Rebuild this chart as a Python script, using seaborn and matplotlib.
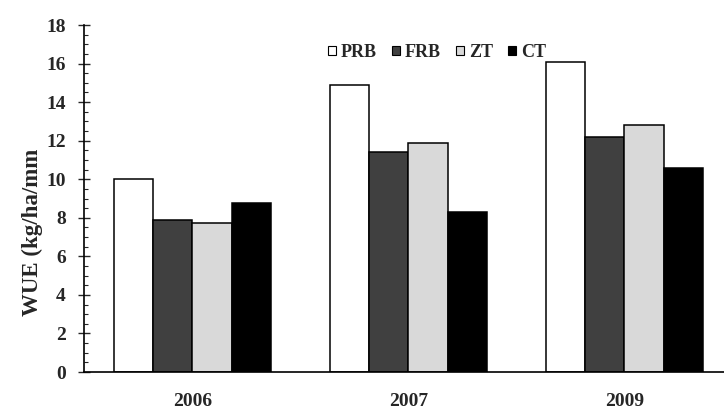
import matplotlib
matplotlib.use("Agg")
import matplotlib.pyplot as plt
import seaborn as sns
import pandas as pd
from matplotlib.patches import Patch
from matplotlib.ticker import MultipleLocator

years = ["2006", "2007", "2009"]
treatments = ["PRB", "FRB", "ZT", "CT"]
prb = [10.0, 14.9, 16.1]
frb = [7.9, 11.4, 12.2]
zt = [7.75, 11.9, 12.8]
ct = [8.75, 8.3, 10.6]
colors = ["#ffffff", "#404040", "#d9d9d9", "#000000"]

rows = []
for t, vals in zip(treatments, [prb, frb, zt, ct]):
    for y, v in zip(years, vals):
        rows.append({"year": y, "treatment": t, "wue": v})
df = pd.DataFrame(rows)

sns.set_style("white")
plt.rcParams["font.family"] = ["Liberation Serif", "DejaVu Serif"]
plt.rcParams["font.weight"] = "bold"

fig = plt.figure(figsize=(7.24, 4.11), dpi=100)
ax = fig.add_axes([84 / 724, 39 / 411, 640 / 724, 347 / 411])

sns.barplot(data=df, x="year", y="wue", hue="treatment", order=years,
            hue_order=treatments, palette=colors, width=0.73,
            edgecolor="black", linewidth=1.1, saturation=1, ax=ax,
            legend=False)

ax.set_xlim(-0.502, 2.461)
ax.set_ylim(0, 18)
ax.yaxis.set_major_locator(MultipleLocator(2))
ax.yaxis.set_minor_locator(MultipleLocator(0.5))
ax.tick_params(axis="y", which="major", direction="inout", length=8,
               width=1.0, pad=9, labelsize=14, left=True)
ax.tick_params(axis="y", which="minor", direction="in", length=3,
               width=0.8, left=True)
ax.tick_params(axis="x", which="both", length=0, pad=15, labelsize=14)
for lab in ax.get_xticklabels() + ax.get_yticklabels():
    lab.set_fontweight("bold")

for s in ["top", "right"]:
    ax.spines[s].set_visible(False)
for s in ["left", "bottom"]:
    ax.spines[s].set_color("black")
    ax.spines[s].set_linewidth(1.2)

ax.set_xlabel("")
ax.set_ylabel("WUE (kg/ha/mm", fontsize=16.5, fontweight="bold")
ax.yaxis.label.set_va("center")
ax.yaxis.set_label_coords(-0.081, 0.403)

handles = [Patch(facecolor=c, edgecolor="black", linewidth=0.8, label=t)
           for c, t in zip(colors, treatments)]
ax.legend(handles=handles, loc="center", bbox_to_anchor=(0.552, 0.922),
          ncol=4, frameon=False, handlelength=0.4, handleheight=0.4,
          handletextpad=0.3, columnspacing=0.85,
          prop={"weight": "bold", "size": 13})

fig.savefig("out.png", dpi=100)
